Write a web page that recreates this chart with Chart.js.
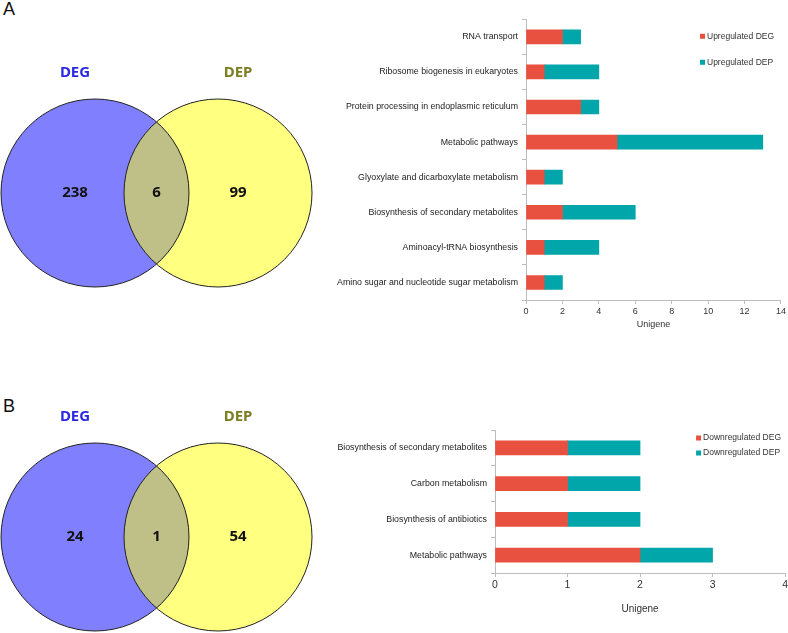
<!DOCTYPE html>
<html>
<head>
<meta charset="utf-8">
<script src="https://cdn.jsdelivr.net/npm/chart.js@4/dist/chart.umd.min.js"></script>
<style>
  html, body { margin: 0; padding: 0; background: #fff; }
  #page { position: relative; width: 788px; height: 633px; overflow: hidden; background: #fff; }
  canvas { position: absolute; }
  .panel { position: absolute; font: 18px "Liberation Sans", Arial, sans-serif; color: #111; }
</style>
</head>
<body>
<div id="page">
  <div class="panel" style="left:3px; top:-1px;">A</div>
  <div class="panel" style="left:3px; top:396px;">B</div>
  <canvas id="vennA" width="320" height="300" style="left:0; top:0;"></canvas>
  <canvas id="vennB" width="320" height="300" style="left:0; top:344px;"></canvas>
  <canvas id="barA" width="458" height="320" style="left:330px; top:10px;"></canvas>
  <canvas id="barB" width="460" height="195" style="left:330px; top:420px;"></canvas>
</div>
<script>
// ---- data ----
const vennSets = ['DEG', 'DEP'];
const vennCountsA = [238, 6, 99];   // DEG only, both, DEP only
const vennCountsB = [24, 1, 54];

const upPathways = [
  'RNA transport',
  'Ribosome biogenesis in eukaryotes',
  'Protein processing in endoplasmic reticulum',
  'Metabolic pathways',
  'Glyoxylate and dicarboxylate metabolism',
  'Biosynthesis of secondary metabolites',
  'Aminoacyl-tRNA biosynthesis',
  'Amino sugar and nucleotide sugar metabolism'
];
const upDEG = [2, 1, 3, 5, 1, 2, 1, 1];
const upDEP = [1, 3, 1, 8, 1, 4, 3, 1];

const downPathways = [
  'Biosynthesis of secondary metabolites',
  'Carbon metabolism',
  'Biosynthesis of antibiotics',
  'Metabolic pathways'
];
const downDEG = [1, 1, 1, 2];
const downDEP = [1, 1, 1, 1];

// ---- styles ----
const RED = '#e8503f';
const TEAL = '#00a6aa';
const GRAY_AXIS = '#bdbdbd';
Chart.defaults.font.family = '"Liberation Sans", Arial, sans-serif';

// venn: draw overlap + outlines + texts on top of the two bubbles
const vennPlugin = {
  id: 'venn',
  afterDatasetsDraw(chart, args, o) {
    const ctx = chart.ctx;
    const a = chart.getDatasetMeta(0).data[0];
    const b = chart.getDatasetMeta(1).data[0];
    const r = a.options.radius;
    ctx.save();
    ctx.beginPath();
    ctx.arc(a.x, a.y, r, 0, Math.PI * 2);
    ctx.clip();
    ctx.beginPath();
    ctx.arc(b.x, b.y, r, 0, Math.PI * 2);
    ctx.fillStyle = o.overlapColor;
    ctx.fill();
    ctx.restore();

    ctx.save();
    ctx.strokeStyle = '#222';
    ctx.lineWidth = 1;
    [a, b].forEach(p => {
      ctx.beginPath();
      ctx.arc(p.x, p.y, r, 0, Math.PI * 2);
      ctx.stroke();
    });

    ctx.textAlign = 'center';
    ctx.textBaseline = 'middle';
    ctx.font = 'bold 15px "Noto Sans", sans-serif';
    const labelX = [a.x - o.dx, b.x + o.dx];
    chart.data.datasets.forEach((ds, i) => {
      ctx.fillStyle = o.labelColors[i];
      ctx.fillText(ds.label, labelX[i], a.y - o.labelDy);
    });
    ctx.fillStyle = '#111';
    const counts = o.counts;
    ctx.fillText(String(counts[0]), a.x - o.dx, a.y);
    ctx.fillText(String(counts[1]), (a.x + b.x) / 2, a.y);
    ctx.fillText(String(counts[2]), b.x + o.dx, b.y);
    ctx.restore();
  }
};

function makeVenn(id, counts) {
  new Chart(document.getElementById(id), {
    type: 'bubble',
    data: {
      datasets: [
        { label: vennSets[0], data: [{ x: 0, y: 0, r: 94 }], backgroundColor: '#8080ff', borderWidth: 0, clip: false },
        { label: vennSets[1], data: [{ x: 1, y: 0, r: 94 }], backgroundColor: '#ffff80', borderWidth: 0, clip: false }
      ]
    },
    options: {
      responsive: false,
      animation: false,
      events: [],
      layout: { padding: 0, autoPadding: false },
      scales: {
        x: { display: false, min: -95 / 123, max: 225 / 123 },
        y: { display: false, min: -107 / 123, max: 193 / 123 }
      },
      plugins: {
        legend: { display: false },
        tooltip: { enabled: false },
        venn: { overlapColor: '#bfbf88', dx: 20, labelDy: 120, labelColors: ['#2a2ae0', '#7d7d22'], counts: counts }
      }
    },
    plugins: [vennPlugin]
  });
}

// small square legend drawn inside the plot area, top right
const boxLegend = {
  id: 'boxLegend',
  afterDraw(chart, args, o) {
    const { ctx, chartArea } = chart;
    ctx.save();
    ctx.font = o.fontSize + 'px "Liberation Sans", Arial, sans-serif';
    ctx.textBaseline = 'middle';
    chart.data.datasets.forEach((ds, i) => {
      const x = chartArea.right - o.right;
      const y = chartArea.top + o.top + i * o.gap;
      ctx.fillStyle = ds.backgroundColor;
      ctx.fillRect(x, y - 2.5, 5, 5);
      ctx.fillStyle = '#333';
      ctx.fillText(ds.label, x + 7, y);
    });
    ctx.restore();
  }
};

function makeBars(id, labels, deg, dep, names, cfg) {
  new Chart(document.getElementById(id), {
    type: 'bar',
    data: {
      labels: labels,
      datasets: [
        { label: names[0], data: deg, backgroundColor: RED, barThickness: 14, borderWidth: 0 },
        { label: names[1], data: dep, backgroundColor: TEAL, barThickness: 14, borderWidth: 0 }
      ]
    },
    options: {
      indexAxis: 'y',
      responsive: false,
      animation: false,
      events: [],
      layout: { padding: cfg.padding },
      scales: {
        x: {
          stacked: true,
          min: 0,
          max: cfg.max,
          ticks: { stepSize: cfg.step, font: { size: cfg.tickSize }, color: '#333', padding: 2 },
          grid: { drawOnChartArea: false, tickLength: 4, color: GRAY_AXIS },
          border: { color: GRAY_AXIS },
          title: { display: true, text: 'Unigene', font: { size: cfg.titleSize }, color: '#333', padding: 0 },
          afterFit: s => { s.height = cfg.xHeight; }
        },
        y: {
          stacked: true,
          ticks: { font: { size: 8.8 }, color: '#222', padding: 4 },
          grid: { drawOnChartArea: false, tickLength: 4, color: GRAY_AXIS },
          border: { color: GRAY_AXIS },
          afterFit: s => { s.width = cfg.yWidth; }
        }
      },
      plugins: {
        legend: { display: false },
        tooltip: { enabled: false },
        boxLegend: cfg.legend
      }
    },
    plugins: [boxLegend]
  });
}

makeVenn('vennA', vennCountsA);
makeVenn('vennB', vennCountsB);

makeBars('barA', upPathways, upDEG, upDEP, ['Upregulated DEG', 'Upregulated DEP'], {
  padding: { top: 5, right: 6, bottom: 0, left: 0 },
  max: 14, step: 2, tickSize: 9, titleSize: 9, xHeight: 30, yWidth: 196,
  legend: { right: 81, top: 17, gap: 26, fontSize: 8.5 }
});

makeBars('barB', downPathways, downDEG, downDEP, ['Downregulated DEG', 'Downregulated DEP'], {
  padding: { top: 10, right: 4, bottom: 0, left: 0 },
  max: 4, step: 1, tickSize: 10.5, titleSize: 10, xHeight: 42, yWidth: 165,
  legend: { right: 89, top: 8, gap: 15, fontSize: 8.5 }
});
</script>
</body>
</html>
